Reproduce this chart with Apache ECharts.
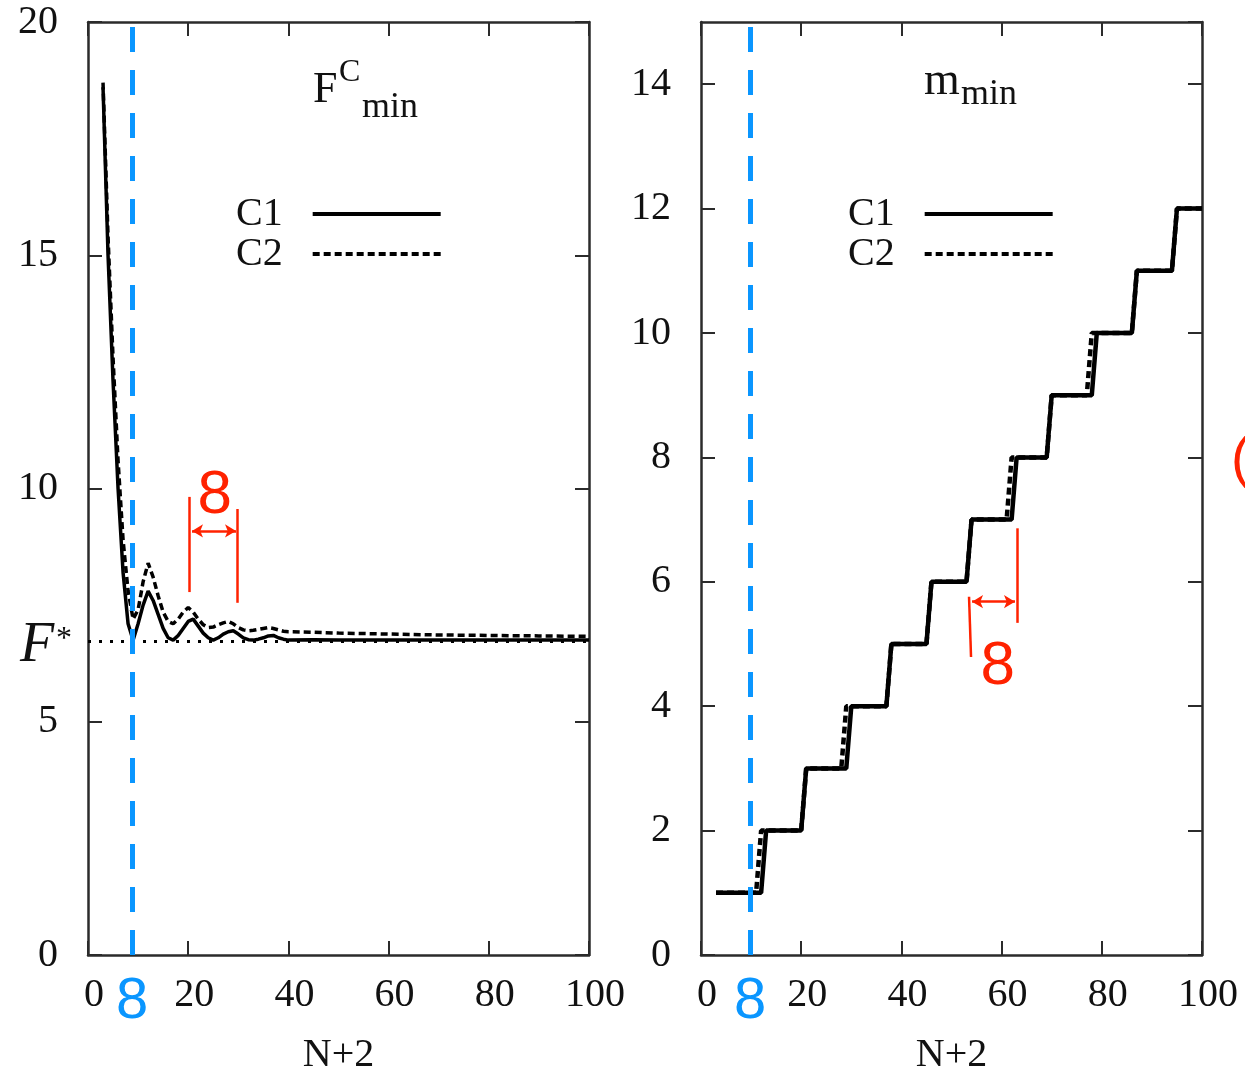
<!DOCTYPE html>
<html>
<head>
<meta charset="utf-8">
<title>F_min and m_min vs N+2</title>
<script src="https://cdn.jsdelivr.net/npm/echarts@6/dist/echarts.min.js"></script>
<style>
  html, body { margin: 0; padding: 0; background: #fff; }
  #chart { width: 1245px; height: 1072px; }
</style>
</head>
<body>
<div id="chart"></div>
<script>
// left panel: F^C_min against N+2
var fN  = [3, 4, 5, 6, 7, 8, 9, 10, 11, 12, 13, 14, 15, 16, 17, 18, 19, 20, 21, 22,
           23, 24, 25, 26, 27, 28, 29, 30, 31, 32, 33, 34, 35, 36, 37, 38, 39, 40,
           45, 50, 60, 70, 80, 90, 100];
var fC1 = [18.6, 15.0, 12.3, 10.0, 8.2, 7.1, 6.75, 7.1, 7.5, 7.8, 7.6, 7.3, 7.0, 6.8, 6.75, 6.85, 7.0, 7.15, 7.2, 7.05,
           6.9, 6.8, 6.75, 6.8, 6.88, 6.93, 6.95, 6.88, 6.8, 6.76, 6.75, 6.77, 6.8, 6.84, 6.85, 6.8, 6.77, 6.75,
           6.76, 6.75, 6.75, 6.75, 6.75, 6.75, 6.75];
var fC2 = [18.7, 15.4, 12.8, 10.6, 8.9, 7.8, 7.2, 7.4, 8.0, 8.4, 8.1, 7.7, 7.35, 7.15, 7.1, 7.2, 7.35, 7.45, 7.35, 7.2,
           7.08, 7.02, 7.03, 7.08, 7.12, 7.15, 7.1, 7.02, 6.97, 6.95, 6.96, 6.98, 7.0, 7.02, 7.0, 6.97, 6.94, 6.93,
           6.92, 6.9, 6.88, 6.86, 6.85, 6.84, 6.83];
var fStar = 6.72;

// right panel: m_min against N+2 (steps)
var mN1 = [3, 12, 13, 20, 21, 29, 30, 37, 38, 45, 46, 53, 54, 62, 63, 69, 70, 78, 79, 86, 87, 94, 95, 100];
var mC1 = [1, 1, 2, 2, 3, 3, 4, 4, 5, 5, 6, 6, 7, 7, 8, 8, 9, 9, 10, 10, 11, 11, 12, 12];
var mN2 = [3, 11, 12, 20, 21, 28, 29, 37, 38, 45, 46, 53, 54, 61, 62, 69, 70, 77, 78, 86, 87, 94, 95, 100];
var mC2 = [1, 1, 2, 2, 3, 3, 4, 4, 5, 5, 6, 6, 7, 7, 8, 8, 9, 9, 10, 10, 11, 11, 12, 12];

// ticks
var xTicks = [0, 20, 40, 60, 80, 100];
var fTicks = [0, 5, 10, 15, 20];
var mTicks = [0, 2, 4, 6, 8, 10, 12, 14];
var mTop = 15;

// hand drawn marks: blue guide at N+2 = 8, red period brackets
var blueLeft = 8.8, blueRight = 9.8;
var leftBars  = [[20.16, 9.82, 7.78], [29.74, 9.56, 7.55]];   // x, yTop, yBottom
var leftArrow = [20.76, 29.54, 9.09];                          // x1, x2, y
var rightBars = [[53.5, 5.76, 53.9, 4.79], [63.07, 6.86, 63.07, 5.34]];
var rightArrow = [54.1, 62.67, 5.68];

var SERIF = 'Liberation Serif';
var SANS = 'Liberation Sans';
var INK = '#111';
var FRAME = '#2b2b2b';
var BLUE = '#0a96ff';
var RED = '#ff2200';

function pairs(xs, ys) {
  return xs.map(function (x, i) { return [x, ys[i]]; });
}

function xAxisFor(grid, pos, ticks) {
  return {
    type: 'value', gridIndex: grid, position: pos,
    min: ticks[0], max: ticks[ticks.length - 1], interval: ticks[1] - ticks[0],
    name: pos === 'bottom' ? 'N+2' : '',
    nameLocation: 'middle', nameGap: 80,
    nameTextStyle: { fontFamily: SERIF, fontSize: 40, color: INK },
    axisLine: { show: true, onZero: false, lineStyle: { color: FRAME, width: 2.5 } },
    axisTick: { show: true, inside: true, length: 14, lineStyle: { color: FRAME, width: 2 } },
    axisLabel: { show: pos === 'bottom', fontFamily: SERIF, fontSize: 40, color: INK, margin: 20, padding: [0, 0, 0, 12] },
    splitLine: { show: false }
  };
}

function yAxisFor(grid, pos, ticks, top) {
  return {
    type: 'value', gridIndex: grid, position: pos,
    min: ticks[0], max: top, interval: ticks[1] - ticks[0],
    axisLine: { show: true, onZero: false, lineStyle: { color: FRAME, width: 2.5 } },
    axisTick: { show: true, inside: true, length: 14, lineStyle: { color: FRAME, width: 2 } },
    axisLabel: { show: pos === 'left', fontFamily: SERIF, fontSize: 40, color: INK, margin: 30,
                 showMaxLabel: top === ticks[ticks.length - 1] },
    splitLine: { show: false }
  };
}

function legendAt(left) {
  return {
    data: ['C1', 'C2'], left: left, top: 189, orient: 'vertical', align: 'right',
    itemWidth: 128, itemHeight: 12, itemGap: 0, selectedMode: false,
    itemStyle: { opacity: 0 },
    lineStyle: { width: 4, color: '#000' },
    textStyle: { fontFamily: SERIF, fontSize: 40, color: INK, lineHeight: 39, padding: [0, 25, 0, 0] }
  };
}

function bar(x1, y1, x2, y2) {
  return [{ coord: [x1, y1] }, { coord: [x2, y2] }];
}

function arrow(a, text, where, gap) {
  return [
    { coord: [a[0], a[2]], symbol: 'arrow', symbolSize: [10, 11] },
    { coord: [a[1], a[2]], symbol: 'arrow', symbolSize: [10, 11],
      label: { show: true, formatter: text, position: where, distance: gap,
               fontFamily: SANS, fontSize: 62, color: RED } }
  ];
}

function blueGuide(x) {
  return {
    xAxis: x,
    lineStyle: { color: BLUE, width: 5, type: [25, 18] },
    label: { show: true, position: 'start', formatter: '8', distance: 18,
             fontFamily: SANS, fontSize: 58, color: BLUE }
  };
}

var chart = echarts.init(document.getElementById('chart'));

var option = {
  animation: false,
  backgroundColor: '#fff',
  grid: [
    { left: 88, top: 22, width: 501, height: 933, outerBoundsMode: 'none', containLabel: false },
    { left: 701, top: 22, width: 501, height: 933, outerBoundsMode: 'none', containLabel: false }
  ],
  xAxis: [
    xAxisFor(0, 'bottom', xTicks), xAxisFor(0, 'top', xTicks),
    xAxisFor(1, 'bottom', xTicks), xAxisFor(1, 'top', xTicks)
  ],
  yAxis: [
    yAxisFor(0, 'left', fTicks, fTicks[fTicks.length - 1]), yAxisFor(0, 'right', fTicks, fTicks[fTicks.length - 1]),
    yAxisFor(1, 'left', mTicks, mTop), yAxisFor(1, 'right', mTicks, mTop)
  ],
  legend: [legendAt(231), legendAt(843)],
  series: [
    { name: 'C1', type: 'line', xAxisIndex: 0, yAxisIndex: 0, data: pairs(fN, fC1),
      symbol: 'none', z: 3, itemStyle: { color: '#000' }, lineStyle: { color: '#000', width: 3.5 } },
    { name: 'C2', type: 'line', xAxisIndex: 0, yAxisIndex: 0, data: pairs(fN, fC2),
      symbol: 'none', z: 3, itemStyle: { color: '#000' }, lineStyle: { color: '#000', width: 3.5, type: [7, 4] } },
    { name: 'C2', type: 'line', xAxisIndex: 2, yAxisIndex: 2, data: pairs(mN2, mC2),
      symbol: 'none', z: 2, itemStyle: { color: '#000' }, lineStyle: { color: '#000', width: 4.5, type: [7, 4] } },
    { name: 'C1', type: 'line', xAxisIndex: 2, yAxisIndex: 2, data: pairs(mN1, mC1),
      symbol: 'none', z: 3, itemStyle: { color: '#000' }, lineStyle: { color: '#000', width: 4.5 } },
    // annotations, left
    { name: 'notesL', type: 'line', xAxisIndex: 0, yAxisIndex: 0, data: [], z: 5,
      markLine: {
        silent: true, symbol: ['none', 'none'], animation: false,
        label: { show: false }, emphasis: { disabled: true },
        lineStyle: { color: RED, width: 2.5, type: 'solid' },
        data: [
          { yAxis: fStar, lineStyle: { color: '#000', width: 3, type: [3, 8] } },
          blueGuide(blueLeft),
          bar(leftBars[0][0], leftBars[0][1], leftBars[0][0], leftBars[0][2]),
          bar(leftBars[1][0], leftBars[1][1], leftBars[1][0], leftBars[1][2]),
          arrow(leftArrow, '8', 'insideEndTop', 4)
        ]
      } },
    // annotations, right
    { name: 'notesR', type: 'line', xAxisIndex: 2, yAxisIndex: 2, data: [], z: 5,
      markLine: {
        silent: true, symbol: ['none', 'none'], animation: false,
        label: { show: false }, emphasis: { disabled: true },
        lineStyle: { color: RED, width: 2.5, type: 'solid' },
        data: [
          blueGuide(blueRight),
          bar(rightBars[0][0], rightBars[0][1], rightBars[0][2], rightBars[0][3]),
          bar(rightBars[1][0], rightBars[1][1], rightBars[1][2], rightBars[1][3]),
          arrow(rightArrow, '8', 'insideEndBottom', [0, 34])
        ]
      } }
  ],
  graphic: [
    // panel titles
    { type: 'text', x: 313, y: 90, style: { text: 'F', fontFamily: SERIF, fontSize: 44, fill: INK, verticalAlign: 'middle' } },
    { type: 'text', x: 339, y: 73, style: { text: 'C', fontFamily: SERIF, fontSize: 32, fill: INK, verticalAlign: 'middle' } },
    { type: 'text', x: 362, y: 108, style: { text: 'min', fontFamily: SERIF, fontSize: 36, fill: INK, verticalAlign: 'middle' } },
    { type: 'text', x: 924, y: 82, style: { text: 'm', fontFamily: SERIF, fontSize: 46, fill: INK, verticalAlign: 'middle' } },
    { type: 'text', x: 961, y: 95, style: { text: 'min', fontFamily: SERIF, fontSize: 36, fill: INK, verticalAlign: 'middle' } },
    // F* label
    { type: 'text', x: 20, y: 646, style: { text: 'F', fontFamily: SERIF, fontStyle: 'italic', fontSize: 56, fill: INK, verticalAlign: 'middle' } },
    { type: 'text', x: 56, y: 640, style: { text: '*', fontFamily: SERIF, fontSize: 32, fill: INK, verticalAlign: 'middle' } },
    // cut off red bracket at the right edge
    { type: 'text', x: 1231, y: 461, style: { text: '(', fontFamily: SANS, fontSize: 56, fill: RED, verticalAlign: 'middle' } }
  ]
};

chart.setOption(option);
</script>
</body>
</html>
